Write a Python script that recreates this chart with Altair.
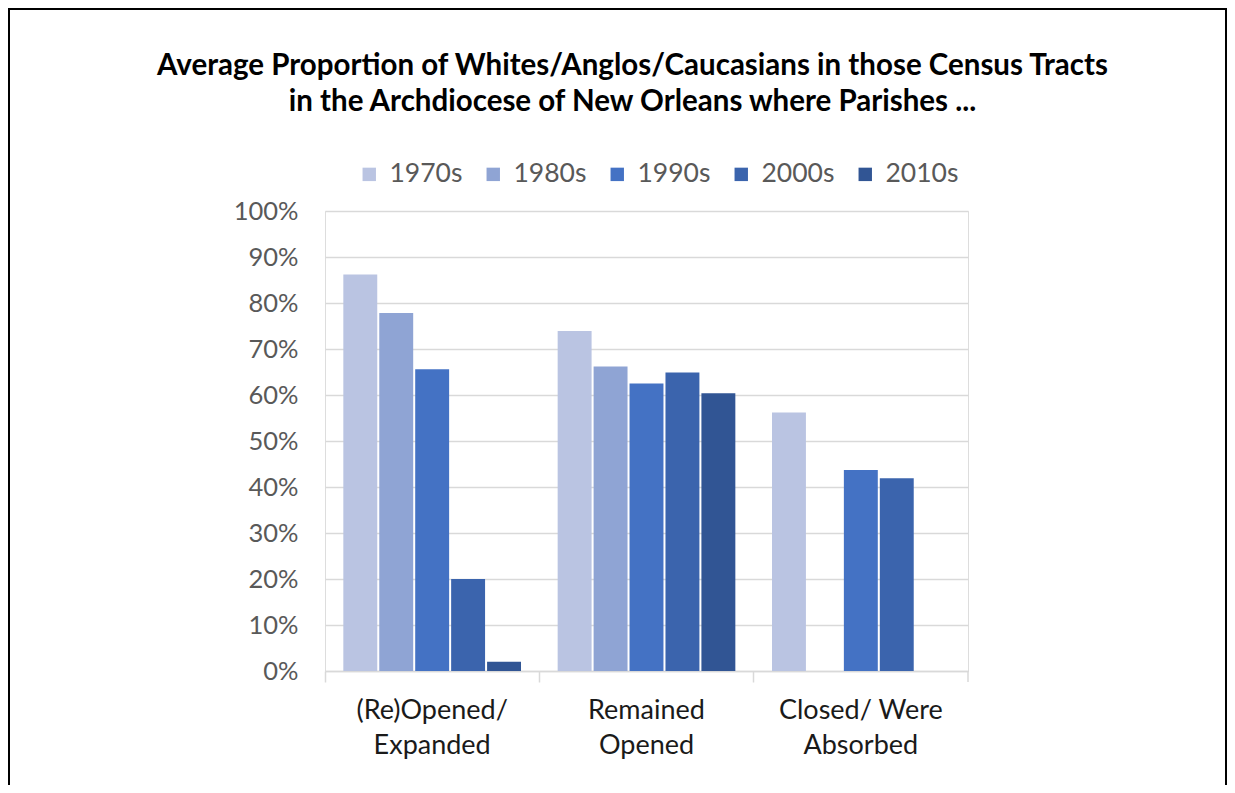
import altair as alt
import pandas as pd

categories = ["(Re)Opened/|Expanded", "Remained|Opened", "Closed/ Were|Absorbed"]
decades = ["1970s", "1980s", "1990s", "2000s", "2010s"]
colors = ["#BAC4E2", "#8FA4D4", "#4472C4", "#3B64AD", "#315594"]
vals_1970s = [0.862, 0.739, 0.562]
vals_1980s = [0.778, 0.662, None]
vals_1990s = [0.656, 0.625, 0.437]
vals_2000s = [0.200, 0.649, 0.419]
vals_2010s = [0.020, 0.604, None]
title_lines = ["Average Proportion of Whites/Anglos/Caucasians in those Census Tracts",
               "in the Archdiocese of New Orleans where Parishes ..."]

series = [vals_1970s, vals_1980s, vals_1990s, vals_2000s, vals_2010s]
rows = []
for d, vals in zip(decades, series):
    for c, v in zip(categories, vals):
        if v is not None:
            rows.append({"category": c, "decade": d, "value": v})
df = pd.DataFrame(rows)

FONT = "Lato"
W, H = 643, 460
PL, PT, PR, PB = 317, 203, 259, 114

bars = alt.Chart(df).mark_bar().encode(
    x=alt.X("category:N", sort=categories,
            scale=alt.Scale(paddingInner=0, paddingOuter=0),
            axis=alt.Axis(title=None, labelAngle=0, bandPosition=0,
                          labelExpr="split(datum.label, '|')",
                          labelFontSize=27, labelColor="#1a1a1a", labelFont=FONT,
                          labelLineHeight=35, labelPadding=15,
                          tickSize=11, tickColor="#D9D9D9", tickWidth=1.5,
                          domainColor="#D9D9D9", domainWidth=1.5, labelBound=False)),
    xOffset=alt.XOffset("decade:N", sort=decades,
                        scale=alt.Scale(paddingInner=0.056, paddingOuter=0.51)),
    y=alt.Y("value:Q", scale=alt.Scale(domain=[0, 1]),
            axis=alt.Axis(title=None, format=".0%", values=[i / 10 for i in range(11)],
                          labelFontSize=25.5, labelColor="#595959", labelFont=FONT,
                          labelPadding=27, domain=False, ticks=False,
                          gridColor="#D9D9D9", gridWidth=1.5)),
    color=alt.Color("decade:N", sort=decades,
                    scale=alt.Scale(domain=decades, range=colors),
                    legend=alt.Legend(title=None, orient="none", direction="horizontal",
                                      legendX=31, legendY=-50,
                                      symbolType="square", symbolSize=180,
                                      symbolStrokeWidth=0,
                                      labelFontSize=26.5, labelColor="#595959",
                                      labelFont=FONT, columnPadding=17,
                                      labelOffset=7)),
)

end_tick = alt.Chart(alt.Data(values=[{}])).mark_rule(
    color="#D9D9D9", strokeWidth=1.5
).encode(x=alt.value(W), y=alt.value(H), y2=alt.value(H + 11))

title = alt.Chart(alt.Data(values=[{}])).mark_text(
    font=FONT, fontSize=29.5, fontWeight="bold", color="black",
    align="center", baseline="alphabetic", lineHeight=36
).encode(x=alt.value(W / 2 - 14), y=alt.value(-136), text=alt.value(title_lines))

frame = alt.Chart(alt.Data(values=[{}])).mark_rect(
    fill=None, stroke="black", strokeWidth=2
).encode(x=alt.value(-PL + 1), x2=alt.value(W + PR - 1),
         y=alt.value(-PT + 1), y2=alt.value(H + PB + 20))

chart = alt.layer(bars, end_tick, title, frame).properties(
    width=W, height=H,
    autosize=alt.AutoSizeParams(type="none"),
    padding={"left": PL, "top": PT, "right": PR, "bottom": PB},
).configure_view(stroke=None).configure(background="white")

chart.save("out.html", embed_options={"renderer": "svg", "actions": False})
